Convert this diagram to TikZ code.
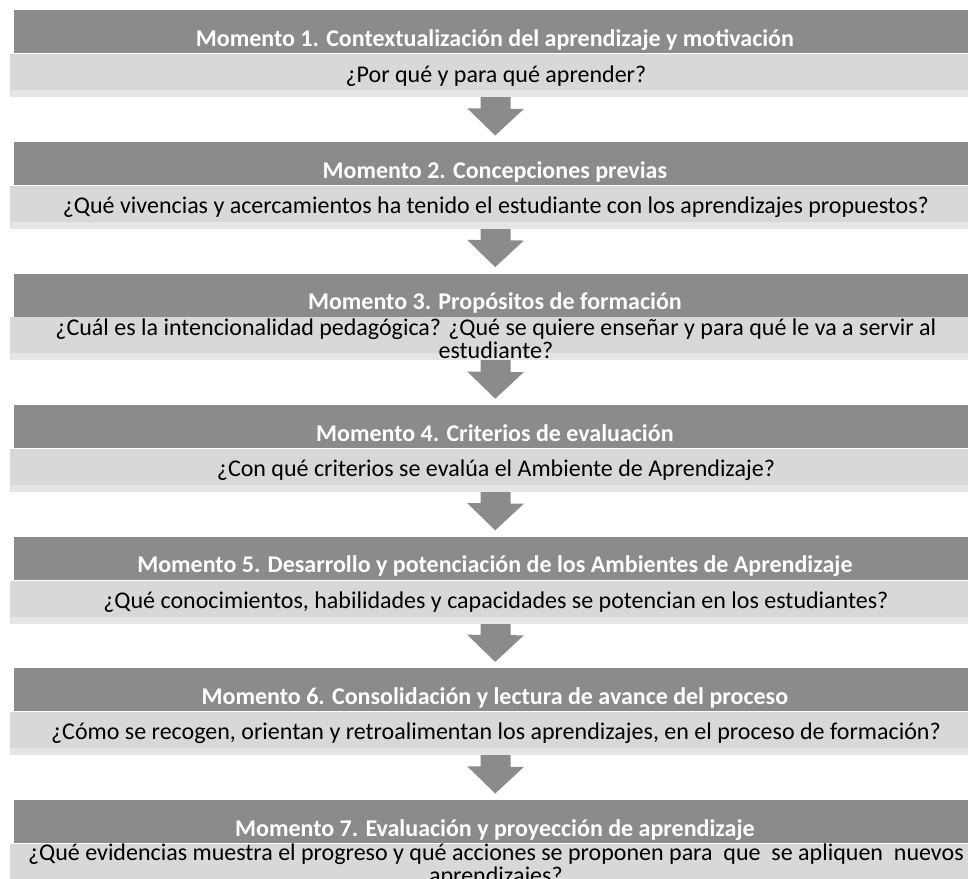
\documentclass[tikz,border=0pt]{standalone}
\usepackage{fontspec}
\setmainfont{Carlito}
\usetikzlibrary{positioning, arrows.meta, backgrounds}
\definecolor{bandgray}{HTML}{8A8B8D}
\definecolor{boxgray}{HTML}{D7D8DA}
\definecolor{edgegray}{HTML}{E4E5E7}

\begin{document}
\begin{tikzpicture}[node distance=43.9pt,
  title/.style={fill=bandgray, text=white, font=\fontsize{12}{10}\selectfont\bfseries, minimum width=480.5pt, inner sep=0pt, text height=18pt, text depth=3.5pt},
  question/.style={fill=boxgray, minimum width=485.5pt, minimum height=21.5pt, inner sep=0pt, align=center, font=\fontsize{12}{10}\selectfont,
    path picture={\fill[edgegray] (path picture bounding box.south west) rectangle ([yshift=3.5pt]path picture bounding box.south east);}},
  flow/.style={bandgray, line width=15pt, -{Triangle[width=27.5pt, length=13.5pt]}, shorten <=-3pt, shorten >=3pt}]
\useasboundingbox (0,0) rectangle (484pt,-439pt);

\node (m1) [title, anchor=north west] at (7pt,-5pt) {Momento 1. Contextualización del aprendizaje y motivación};
\node (q1) [question, below=0pt of m1, xshift=0.5pt] {¿Por qué y para qué aprender?};
\node (m2) [title, below=of m1] {Momento 2. Concepciones previas};
\node (q2) [question, below=0pt of m2, xshift=0.5pt] {¿Qué vivencias y acercamientos ha tenido el estudiante con los aprendizajes propuestos?};
\node (m3) [title, below=of m2] {Momento 3. Propósitos de formación};
\node (q3) [question, below=0pt of m3, xshift=0.5pt] {¿Cuál es la intencionalidad pedagógica? ¿Qué se quiere enseñar y para qué le va a servir al\\ estudiante?};
\node (m4) [title, below=of m3] {Momento 4. Criterios de evaluación};
\node (q4) [question, below=0pt of m4, xshift=0.5pt] {¿Con qué criterios se evalúa el Ambiente de Aprendizaje?};
\node (m5) [title, below=of m4] {Momento 5. Desarrollo y potenciación de los Ambientes de Aprendizaje};
\node (q5) [question, below=0pt of m5, xshift=0.5pt] {¿Qué conocimientos, habilidades y capacidades se potencian en los estudiantes?};
\node (m6) [title, below=of m5] {Momento 6. Consolidación y lectura de avance del proceso};
\node (q6) [question, below=0pt of m6, xshift=0.5pt] {¿Cómo se recogen, orientan y retroalimentan los aprendizajes, en el proceso de formación?};
\node (m7) [title, below=of m6] {Momento 7. Evaluación y proyección de aprendizaje};
\node (q7) [question, below=0pt of m7, xshift=0.5pt] {¿Qué evidencias muestra el progreso y qué acciones se proponen para\ \ que\ \ se apliquen\ \ nuevos\\ aprendizajes?};

% flechas entre momentos, detras de las bandas
\begin{scope}[on background layer]
\foreach \a/\b in {q1/m2, q2/m3, q3/m4, q4/m5, q5/m6, q6/m7}
  \draw[flow] (\a) -- (\b);
\end{scope}
\end{tikzpicture}
\end{document}
